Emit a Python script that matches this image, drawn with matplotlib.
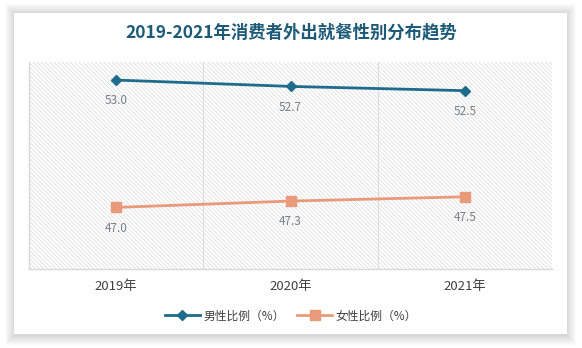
import matplotlib
matplotlib.use("Agg")
import matplotlib.pyplot as plt
from matplotlib.patches import Rectangle

plt.rcParams['font.family'] = ['Noto Sans CJK SC', 'DejaVu Sans']
plt.rcParams['hatch.linewidth'] = 0.5

TITLE = "2019-2021年消费者外出就餐性别分布趋势"
years = ["2019年", "2020年", "2021年"]
male = [53.0, 52.7, 52.5]
female = [47.0, 47.3, 47.5]
male_label = "男性比例（%）"
female_label = "女性比例（%）"

MALE_COLOR = "#1f6b8e"
FEMALE_COLOR = "#e89a7a"
LABEL_COLOR = "#7a7f88"

W, H = 582, 348
fig = plt.figure(figsize=(W / 100, H / 100), dpi=100)
fig.patch.set_facecolor("white")

# card with soft shadow
x0, y0, x1, y1 = 14, 13, 567, 334
for i in range(10, 0, -1):
    fig.add_artist(Rectangle(((x0 - i + 1) / W, 1 - (y1 + i + 1) / H),
                             (x1 - x0 + 2 * i - 2) / W, (y1 - y0 + 2 * i) / H,
                             transform=fig.transFigure, facecolor="#000000",
                             alpha=0.016, edgecolor="none", zorder=-2))
fig.add_artist(Rectangle((x0 / W, 1 - y1 / H), (x1 - x0) / W, (y1 - y0) / H,
                         transform=fig.transFigure, facecolor="white",
                         edgecolor="none", zorder=-1))

ax = fig.add_axes([29 / W, 1 - 269 / H, (552 - 29) / W, (269 - 62) / H])
ax.set_zorder(1)
ax.set_facecolor("none")
ax.add_patch(Rectangle((0, 0), 1, 1, transform=ax.transAxes, facecolor="white",
                       edgecolor="#dadada", hatch="\\" * 8, linewidth=0,
                       zorder=0))

x = list(range(len(years)))
ax.plot(x, male, color=MALE_COLOR, lw=2, marker="D", ms=5.5, label=male_label, zorder=3)
ax.plot(x, female, color=FEMALE_COLOR, lw=2, marker="s", ms=6.5, label=female_label, zorder=3)

for xi, v in zip(x, male):
    ax.annotate(f"{v:.1f}", (xi, v), xytext=(0, -15), textcoords="offset points",
                ha="center", va="center", fontsize=8.5, color=LABEL_COLOR)
for xi, v in zip(x, female):
    ax.annotate(f"{v:.1f}", (xi, v), xytext=(0, -15), textcoords="offset points",
                ha="center", va="center", fontsize=8.5, color=LABEL_COLOR)

ax.set_xlim(-0.5, 2.5)
ax.set_ylim(44.1, 53.85)
for b in [0.5, 1.5]:
    ax.axvline(b, color="#dcdcdc", lw=0.8, zorder=1)

ax.set_xticks(x)
ax.set_xticklabels(years, fontsize=9.5, color="#404040")
ax.tick_params(axis="x", length=0, pad=8)
ax.set_yticks([])
for s in ["top", "right"]:
    ax.spines[s].set_visible(False)
for s in ["left", "bottom"]:
    ax.spines[s].set_color("#d9d9d9")
    ax.spines[s].set_linewidth(1)

fig.text(0.5, 1 - 32 / H, TITLE, ha="center", va="center", fontsize=12.5,
         fontweight="bold", color="#1d5a78")

fig.legend(loc="center", bbox_to_anchor=(0.5, 1 - 316 / H), ncol=2, frameon=False,
           fontsize=8.5, handlelength=3, columnspacing=1.0, handletextpad=0.3,
           labelcolor="#404040")

fig.savefig("out.png", dpi=100)
